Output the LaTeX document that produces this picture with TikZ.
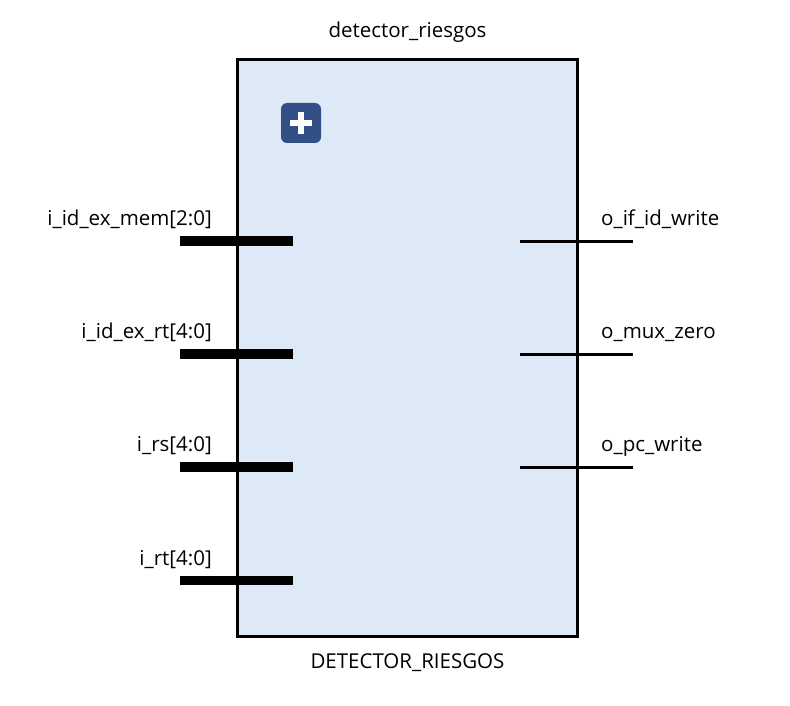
\documentclass[tikz,border=0pt]{standalone}
\usepackage{fontspec}
\setmainfont{Open Sans}
\begin{document}
\begin{tikzpicture}[x=1pt,y=-1pt,
  blockbox/.style={draw=black,line width=3pt,fill=blockfill,minimum width=340pt,minimum height=577.5pt,inner sep=0pt,outer sep=0pt},
  buspin/.style={draw=black,line width=9.7pt},
  wirepin/.style={draw=black,line width=3pt},
  lbl/.style={font=\fontsize{20.5}{24}\selectfont,inner sep=0pt,text=black,text height=15pt,text depth=5pt},
  plusbtn/.style={fill=btnblue,rounded corners=6pt,minimum size=40pt,inner sep=0pt,outer sep=0pt},
  plusbar/.style={fill=white,draw=none}]
\definecolor{blockfill}{HTML}{DEE9F8}
\definecolor{btnblue}{HTML}{324F86}
\useasboundingbox (0,0) rectangle (790,706);
\fill[white] (0,0) rectangle (790,706);
\node[blockbox] (block) at (407.5,348.2) {};
\node[plusbtn] (btn) at (301,123) {};
\fill[plusbar] (290,120) rectangle (312,126);
\fill[plusbar] (298,112) rectangle (304,134);
\node[lbl] (title) at (407.5,33) {detector\_riesgos};
\node[lbl] (name) at (407.5,663) {DETECTOR\_RIESGOS};
\foreach \n/\y in {a/240.8,b/353.8,c/466.8,d/580.5}{
  \coordinate (\n1) at (180,\y);
  \coordinate (\n2) at (293,\y);
  \draw[buspin] (\n1) -- (\n2);
}
\foreach \n/\y in {e/241.3,f/354.3,g/467.3}{
  \coordinate (\n1) at (520,\y);
  \coordinate (\n2) at (633,\y);
  \draw[wirepin] (\n1) -- (\n2);
}
\node[lbl,anchor=east] (la) at (212,220) {i\_id\_ex\_mem[2:0]};
\node[lbl,anchor=east] (lb) at (212,333) {i\_id\_ex\_rt[4:0]};
\node[lbl,anchor=east] (lc) at (212,446) {i\_rs[4:0]};
\node[lbl,anchor=east] (ld) at (212,560) {i\_rt[4:0]};
\node[lbl,anchor=west] (le) at (601,220) {o\_if\_id\_write};
\node[lbl,anchor=west] (lf) at (601,333) {o\_mux\_zero};
\node[lbl,anchor=west] (lg) at (601,446) {o\_pc\_write};
\end{tikzpicture}
\end{document}
